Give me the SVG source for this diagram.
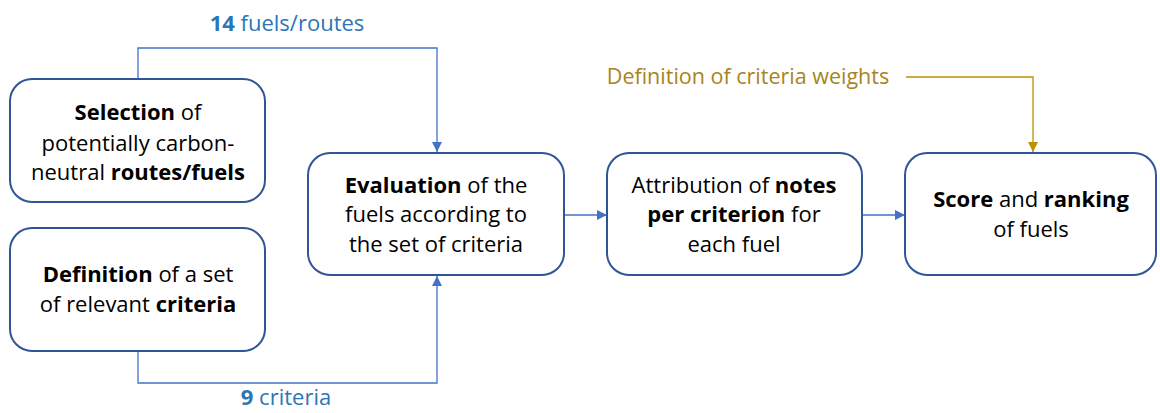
<svg xmlns="http://www.w3.org/2000/svg" width="1160" height="413" viewBox="0 0 1160 413">
<defs>
<style>
.box{fill:#fff;stroke:#2F5597;stroke-width:2}
.t{font-family:"Open Sans","Liberation Sans",sans-serif;font-size:22px;fill:#000;text-anchor:middle}
.b{font-weight:bold}
.con{fill:none;stroke:#4472C4;stroke-width:1.3}
.gold{fill:none;stroke:#BF9000;stroke-width:1.3}
.lbl{font-family:"Open Sans","Liberation Sans",sans-serif;font-size:22px;fill:#2E75B6;text-anchor:middle}
.glbl{font-family:"Open Sans","Liberation Sans",sans-serif;font-size:21.5px;fill:#A88420;text-anchor:middle}
</style>
<marker id="ab" viewBox="0 0 10 10" refX="10" refY="5" markerWidth="10" markerHeight="10" markerUnits="userSpaceOnUse" orient="auto"><path d="M0,0 L10,5 L0,10 z" fill="#4472C4"/></marker>
<marker id="ag" viewBox="0 0 10 10" refX="10" refY="5" markerWidth="10" markerHeight="10" markerUnits="userSpaceOnUse" orient="auto"><path d="M0,0 L10,5 L0,10 z" fill="#BF9000"/></marker>
</defs>
<g id="connectors">
<polyline class="con" points="138,79 138,48 437,48 437,152" marker-end="url(#ab)"/>
<polyline class="con" points="138,351 138,383 437,383 437,276" marker-end="url(#ab)"/>
<line class="con" x1="565" y1="215" x2="607" y2="215" marker-end="url(#ab)"/>
<line class="con" x1="862" y1="215" x2="905" y2="215" marker-end="url(#ab)"/>
<polyline class="gold" points="906,77 1033,77 1033,152" marker-end="url(#ag)"/>
<text class="lbl" x="287" y="31"><tspan class="b">14</tspan> fuels/routes</text>
<text class="lbl" x="286" y="405"><tspan class="b">9</tspan> criteria</text>
<text class="glbl" x="748" y="84">Definition of criteria weights</text>
</g>
<g id="selection">
<rect class="box" x="10" y="79" width="255" height="123" rx="22"/>
<text class="t" x="138" y="120"><tspan class="b">Selection</tspan> of</text>
<text class="t" x="138" y="151">potentially carbon-</text>
<text class="t" x="138" y="180">neutral <tspan class="b">routes/fuels</tspan></text>
</g>
<g id="definition">
<rect class="box" x="10" y="228" width="255" height="123" rx="22"/>
<text class="t" x="138" y="282"><tspan class="b">Definition</tspan> of a set</text>
<text class="t" x="138" y="312">of relevant <tspan class="b">criteria</tspan></text>
</g>
<g id="evaluation">
<rect class="box" x="308" y="153" width="256" height="122" rx="22"/>
<text class="t" x="436" y="193"><tspan class="b">Evaluation</tspan> of the</text>
<text class="t" x="436" y="222">fuels according to</text>
<text class="t" x="436" y="252">the set of criteria</text>
</g>
<g id="attribution">
<rect class="box" x="607" y="153" width="255" height="122" rx="22"/>
<text class="t" x="734" y="193">Attribution of <tspan class="b">notes</tspan></text>
<text class="t" x="734" y="222"><tspan class="b">per criterion</tspan> for</text>
<text class="t" x="734" y="252">each fuel</text>
</g>
<g id="score">
<rect class="box" x="905" y="153" width="251" height="122" rx="22"/>
<text class="t" x="1031" y="207"><tspan class="b">Score</tspan> and <tspan class="b">ranking</tspan></text>
<text class="t" x="1031" y="237">of fuels</text>
</g>
</svg>
